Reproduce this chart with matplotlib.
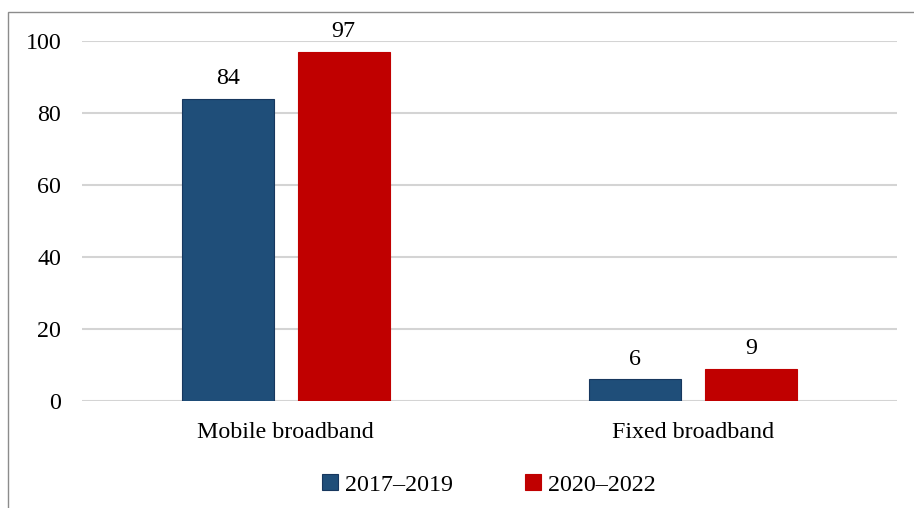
import matplotlib.pyplot as plt
from matplotlib.patches import Rectangle
import numpy as np

categories = ["Mobile broadband", "Fixed broadband"]
series = ["2017\u20132019", "2020\u20132022"]
vals_2017 = [84, 6]
vals_2020 = [97, 9]
colors = ["#1F4E79", "#C00000"]
edges = ["#17375E", "#C00000"]

plt.rcParams['font.family'] = ['Liberation Serif', 'DejaVu Serif']
FS = 17.3

fig = plt.figure(figsize=(9.14, 5.08), dpi=100)
ax = fig.add_axes([0.0897, 0.2106, 0.8917, 0.7087])

# outer frame (cut off on the right and bottom)
fig.patches.append(Rectangle((8/914, -0.05), 1.0, 1 - 12/508 + 0.05,
                             transform=fig.transFigure, fill=False,
                             edgecolor="#8c8c8c", linewidth=1.0))

x = np.arange(len(categories))
w = 0.226
off = 0.1425
for i, (vals, lab) in enumerate(zip([vals_2017, vals_2020], series)):
    bars = ax.bar(x + (-off if i == 0 else off), vals, w, color=colors[i],
                  edgecolor=edges[i], linewidth=0.8, label=lab, zorder=3)
    for b, v in zip(bars, vals):
        ax.annotate(str(v), (b.get_x() + b.get_width()/2, v),
                    xytext=(0, 7), textcoords="offset points",
                    ha="center", va="bottom", fontsize=FS)

ax.set_xlim(-0.5, 1.5)
ax.set_ylim(0, 100)
ax.set_yticks(range(0, 101, 20))
ax.set_xticks(x)
ax.set_xticklabels(categories)
ax.tick_params(axis='both', length=0, labelsize=FS)
ax.tick_params(axis='y', pad=15)
ax.tick_params(axis='x', pad=15)
ax.grid(axis='y', color="#d4d4d4", linewidth=1.5, zorder=0)
for s in ax.spines.values():
    s.set_visible(False)

ax.legend(loc="center", bbox_to_anchor=(489/914, 1 - 485/508),
          bbox_transform=fig.transFigure, ncol=2, frameon=False,
          fontsize=FS, handlelength=0.65, handleheight=0.65,
          handletextpad=0.3, columnspacing=3.0)

fig.savefig("out.png", dpi=100)
